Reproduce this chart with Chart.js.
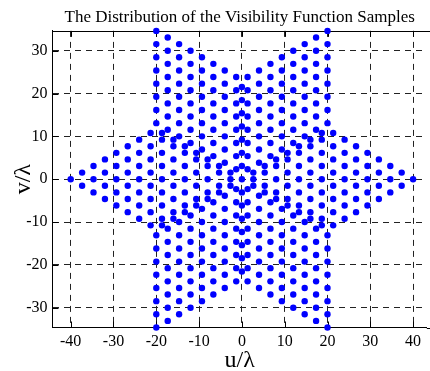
<!DOCTYPE html>
<html>
<head>
<meta charset="utf-8">
<script src="https://cdn.jsdelivr.net/npm/chart.js@4/dist/chart.umd.min.js"></script>
<style>
html,body{margin:0;padding:0;background:#fff;}
canvas{display:block;}
</style>
</head>
<body>
<canvas id="c" width="430" height="371"></canvas>
<script>
// Tick labels
const xTicks = [-40, -30, -20, -10, 0, 10, 20, 30, 40];
const yTicks = [-30, -20, -10, 0, 10, 20, 30];

// Sample columns on the even lattice lines (u positions and v values at each)
const evenColU = [-40.00, -37.33, -34.67, -32.00, -29.33, -26.67, -24.00, -21.33, -18.67, -16.00, -13.33, -10.67, -8.00, -5.33, -2.67, 0,
                  2.67, 5.33, 8.00, 10.67, 13.33, 16.00, 18.67, 21.33, 24.00, 26.67, 29.33, 32.00, 34.67, 37.33, 40.00];
const evenColV = [
  [0],
  [-1.54, 1.54],
  [-3.08, 0, 3.08],
  [-4.62, -1.54, 1.54, 4.62],
  [-6.16, -3.08, 0, 3.08, 6.16],
  [-7.70, -4.62, -1.54, 1.54, 4.62, 7.70],
  [-9.24, -6.16, -3.08, 0, 3.08, 6.16, 9.24],
  [-10.78, -7.70, -4.62, -1.54, 1.54, 4.62, 7.70, 10.78],
  [-10.78, -9.24, -6.16, -3.08, 0, 3.08, 6.16, 9.24, 10.78],
  [-9.24, -7.70, -4.62, -1.54, 1.54, 4.62, 7.70, 9.24],
  [-7.70, -6.16, -3.08, 0, 3.08, 6.16, 7.70],
  [-6.16, -4.62, -1.54, 1.54, 4.62, 6.16],
  [-4.62, -3.08, 0, 3.08, 4.62],
  [-3.08, -1.54, 1.54, 3.08],
  [-1.54, 0, 1.54],
  [-21.55, -18.48, -15.40, -12.32, -9.24, -6.16, -3.08, 0, 3.08, 6.16, 9.24, 12.32, 15.40, 18.48, 21.55],
  [-1.54, 0, 1.54],
  [-3.08, -1.54, 1.54, 3.08],
  [-4.62, -3.08, 0, 3.08, 4.62],
  [-6.16, -4.62, -1.54, 1.54, 4.62, 6.16],
  [-7.70, -6.16, -3.08, 0, 3.08, 6.16, 7.70],
  [-9.24, -7.70, -4.62, -1.54, 1.54, 4.62, 7.70, 9.24],
  [-10.78, -9.24, -6.16, -3.08, 0, 3.08, 6.16, 9.24, 10.78],
  [-10.78, -7.70, -4.62, -1.54, 1.54, 4.62, 7.70, 10.78],
  [-9.24, -6.16, -3.08, 0, 3.08, 6.16, 9.24],
  [-7.70, -4.62, -1.54, 1.54, 4.62, 7.70],
  [-6.16, -3.08, 0, 3.08, 6.16],
  [-4.62, -1.54, 1.54, 4.62],
  [-3.08, 0, 3.08],
  [-1.54, 1.54],
  [0]
];

// Sample columns on the odd lattice lines
const oddColU = [-20.00, -17.33, -14.67, -12.00, -9.33, -6.67, -4.00, -1.33, 1.33, 4.00, 6.67, 9.33, 12.00, 14.67, 17.33, 20.00];
const oddColV = [
  [-34.64, -31.56, -28.48, -25.40, -22.32, -19.25, -16.17, -13.09, 13.09, 16.17, 19.25, 22.32, 25.40, 28.48, 31.56, 34.64],
  [-33.10, -30.02, -26.94, -23.86, -20.78, -17.71, -14.63, -11.55, 11.55, 14.63, 17.71, 20.78, 23.86, 26.94, 30.02, 33.10],
  [-31.56, -28.48, -25.40, -22.32, -19.25, -16.17, -13.09, -10.01, 10.01, 13.09, 16.17, 19.25, 22.32, 25.40, 28.48, 31.56],
  [-30.02, -26.94, -23.86, -20.78, -17.71, -14.63, -11.55, -8.47, 8.47, 11.55, 14.63, 17.71, 20.78, 23.86, 26.94, 30.02],
  [-28.48, -25.40, -22.32, -19.25, -16.17, -13.09, -10.01, -6.93, 6.93, 10.01, 13.09, 16.17, 19.25, 22.32, 25.40, 28.48],
  [-26.94, -23.86, -20.78, -17.71, -14.63, -11.55, -8.47, -5.39, 5.39, 8.47, 11.55, 14.63, 17.71, 20.78, 23.86, 26.94],
  [-25.40, -22.32, -19.25, -16.17, -13.09, -10.01, -6.93, -3.85, 3.85, 6.93, 10.01, 13.09, 16.17, 19.25, 22.32, 25.40],
  [-23.86, -20.78, -17.71, -14.63, -11.55, -8.47, -5.39, -2.31, 2.31, 5.39, 8.47, 11.55, 14.63, 17.71, 20.78, 23.86],
  [-23.86, -20.78, -17.71, -14.63, -11.55, -8.47, -5.39, -2.31, 2.31, 5.39, 8.47, 11.55, 14.63, 17.71, 20.78, 23.86],
  [-25.40, -22.32, -19.25, -16.17, -13.09, -10.01, -6.93, -3.85, 3.85, 6.93, 10.01, 13.09, 16.17, 19.25, 22.32, 25.40],
  [-26.94, -23.86, -20.78, -17.71, -14.63, -11.55, -8.47, -5.39, 5.39, 8.47, 11.55, 14.63, 17.71, 20.78, 23.86, 26.94],
  [-28.48, -25.40, -22.32, -19.25, -16.17, -13.09, -10.01, -6.93, 6.93, 10.01, 13.09, 16.17, 19.25, 22.32, 25.40, 28.48],
  [-30.02, -26.94, -23.86, -20.78, -17.71, -14.63, -11.55, -8.47, 8.47, 11.55, 14.63, 17.71, 20.78, 23.86, 26.94, 30.02],
  [-31.56, -28.48, -25.40, -22.32, -19.25, -16.17, -13.09, -10.01, 10.01, 13.09, 16.17, 19.25, 22.32, 25.40, 28.48, 31.56],
  [-33.10, -30.02, -26.94, -23.86, -20.78, -17.71, -14.63, -11.55, 11.55, 14.63, 17.71, 20.78, 23.86, 26.94, 30.02, 33.10],
  [-34.64, -31.56, -28.48, -25.40, -22.32, -19.25, -16.17, -13.09, 13.09, 16.17, 19.25, 22.32, 25.40, 28.48, 31.56, 34.64]
];

// Build the point table from the columns
const samples = [];
evenColU.forEach((u, i) => evenColV[i].forEach(v => samples.push({x: u, y: v})));
oddColU.forEach((u, i) => oddColV[i].forEach(v => samples.push({x: u, y: v})));

const SERIF = "'Liberation Serif', 'Times New Roman', serif";

const framePlugin = {
  id: 'frame',
  beforeDatasetsDraw(chart) {
    const {ctx, chartArea: {left, right, top, bottom}, scales: {x, y}} = chart;
    ctx.save();
    ctx.strokeStyle = '#000';
    ctx.lineWidth = 1;
    ctx.setLineDash([]);
    ctx.beginPath();
    ctx.moveTo(left, Math.round(top) + 0.5);
    ctx.lineTo(chart.width, Math.round(top) + 0.5);
    ctx.moveTo(right, Math.round(bottom) + 0.5);
    ctx.lineTo(chart.width, Math.round(bottom) + 0.5);
    const tl = 6;
    xTicks.forEach(t => {
      const px = Math.round(x.getPixelForValue(t)) + 0.5;
      ctx.moveTo(px, bottom); ctx.lineTo(px, bottom - tl);
      ctx.moveTo(px, top); ctx.lineTo(px, top + tl);
    });
    yTicks.forEach(t => {
      const py = Math.round(y.getPixelForValue(t)) + 0.5;
      ctx.moveTo(left, py); ctx.lineTo(left + tl, py);
    });
    ctx.stroke();
    ctx.restore();
  }
};

new Chart(document.getElementById('c'), {
  type: 'scatter',
  data: {
    datasets: [{
      label: 'Visibility samples',
      data: samples,
      pointRadius: 3.2,
      pointHoverRadius: 3.2,
      pointBackgroundColor: '#0000ff',
      pointBorderColor: '#0000ff',
      pointBorderWidth: 0,
      clip: false
    }]
  },
  options: {
    responsive: false,
    animation: false,
    devicePixelRatio: 1,
    layout: {padding: {left: 0, right: 0, top: 0, bottom: 0}},
    plugins: {
      legend: {display: false},
      tooltip: {enabled: false},
      title: {
        display: true,
        text: 'The Distribution of the Visibility Function Samples',
        fullSize: false,
        color: '#000',
        font: {family: SERIF, size: 17, weight: 'normal', lineHeight: 1.2},
        padding: {top: 7, bottom: 3.5}
      }
    },
    scales: {
      x: {
        type: 'linear',
        min: -44.25,
        max: 43.2,
        afterBuildTicks: s => { s.ticks = xTicks.map(v => ({value: v})); },
        afterFit: s => { s.height = 43.5; s.paddingLeft = 0; s.paddingRight = 0; },
        grid: {color: '#222', lineWidth: 1, drawTicks: false},
        border: {display: true, color: '#000', width: 1, dash: [6, 5]},
        ticks: {
          color: '#000', padding: 5,
          font: {family: SERIF, size: 16},
          callback: v => String(v),
          maxRotation: 0, autoSkip: false
        },
        title: {
          display: true, text: 'u/λ', color: '#000',
          font: {family: SERIF, size: 24, lineHeight: 1},
          padding: {top: 0, bottom: -2}
        }
      },
      y: {
        type: 'linear',
        min: -34.64,
        max: 34.64,
        afterBuildTicks: s => { s.ticks = yTicks.map(v => ({value: v})); },
        afterFit: s => { s.width = 52.5; s.paddingTop = 0; s.paddingBottom = 0; },
        grid: {color: '#222', lineWidth: 1, drawTicks: false},
        border: {display: true, color: '#000', width: 1, dash: [6, 5]},
        ticks: {
          color: '#000', padding: 5,
          font: {family: SERIF, size: 16},
          callback: v => String(v),
          autoSkip: false
        },
        title: {
          display: true, text: 'v/λ', color: '#000',
          font: {family: SERIF, size: 24, lineHeight: 1},
          padding: {top: 11.5, bottom: 0}
        }
      }
    }
  },
  plugins: [framePlugin]
});
</script>
</body>
</html>
